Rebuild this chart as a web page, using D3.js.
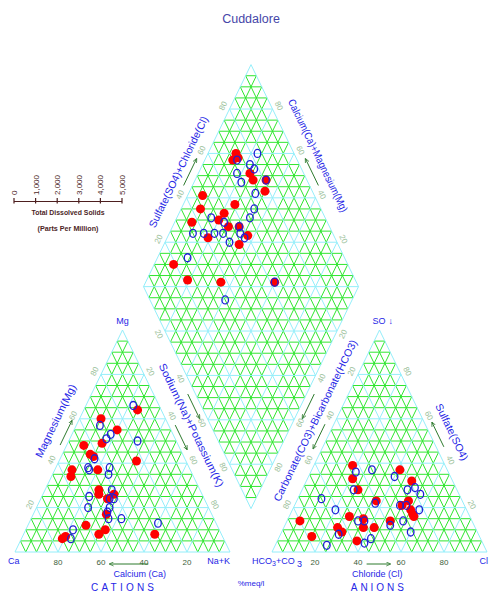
<!DOCTYPE html>
<head>
  <meta charset="utf-8">
  <script src="https://cdn.jsdelivr.net/npm/d3@7/dist/d3.min.js"></script>
  <style>
    body { margin: 0; background: #fff; font-family: Arial, "Liberation Sans", sans-serif; }
    svg { display: block; }
  </style>
</head>
<body>
<div id="chart"></div>
<script>

// cation triangle samples: [Ca, Mg, Na+K] in %meq/l
var cationRed = [[11,64,25],[30,60,10],[25,55,20],[35,49,16],[44,48,8],[43,44,13],[42,43,15],[23,41,36],
  [43,37,20],[55,37,8],[57,34,9],[47,28,25],[48,26,26],[45,24,31],[41,26,33],[49,17,34],[61,12,27],
  [53,10,37],[57,8,35],[31,8,61],[75,6,19],[73,7,20]];
var cationBlue = [[12,66,22],[32,57,11],[29,53,18],[32,51,17],[18,50,32],[42,42,16],[47,38,15],[47,37,16],
  [37,38,25],[39,35,26],[41,28,31],[53,25,22],[44,24,32],[42,24,34],[46,20,34],[56,20,24],[48,18,34],
  [49,15,36],[43,15,42],[68,10,22],[27,13,60],[71,6,23]];

// anion triangle samples: [HCO3+CO3, SO4, Cl]
var anionRed = [[43,39,18],[46,33,21],[22,37,41],[19,32,49],[46,28,26],[40,23,37],[25,23,52],[29,21,50],
  [26,19,55],[26,17,57],[26,16,58],[56,16,28],[50,15,35],[80,14,6],[38,14,48],[52,11,37],[47,11,42],
  [64,11,25],[63,9,28],[78,7,15],[58,5,37]];
var anionBlue = [[43,36,21],[35,37,28],[26,34,40],[19,29,52],[23,28,49],[18,26,56],[48,28,24],[65,24,11],
  [41,22,37],[30,21,49],[27,21,52],[22,19,59],[61,19,20],[53,14,33],[50,14,36],[39,12,49],[32,14,54],
  [65,8,27],[31,9,60],[73,3,24],[55,4,41],[51,6,43]];

// diamond samples: [Ca+Mg, SO4+Cl]
var diamondRed = [[87,73],[85,73],[87,70],[76,75],[73,75],[67,81],[65,78],[93,48],[76,61],[91,44],[79,54],
  [92,37],[80,50],[74,53],[69,58],[63,60],[81,41],[65,54],[91,19],[81,22],[65,37],[40,62]];
var diamondBlue = [[77,83],[85,72],[78,77],[75,78],[82,69],[67,81],[78,69],[69,73],[66,69],[66,65],[84,47],
  [77,52],[69,58],[67,57],[75,49],[79,45],[84,40],[89,35],[64,58],[70,50],[86,27],[40,62],[59,35]];

var edgeTicks = [20, 40, 60, 80];
var tdsTicks = [0, 1000, 2000, 3000, 4000, 5000];

var width = 489, height = 592;
var base = 552, side = 215, tall = 222, gap = 42;
var x0C = 15, x0A = x0C + side + gap, mid = x0C + side + gap / 2;
var dBottom = base - tall * (gap / 2) / (side / 2);

var blue = "#2626e6", green = "#2fe62f", cyan = "#94eefa", tickCol = "#9cc29c";

var yT = d3.scaleLinear().domain([0, 100]).range([base, base - tall]);
var xC = d3.scaleLinear().domain([0, 100]).range([x0C, x0C + side]);
var xA = d3.scaleLinear().domain([0, 100]).range([x0A, x0A + side]);
var xD = d3.scaleLinear().domain([-100, 100]).range([mid - side / 2, mid + side / 2]);
var yD = d3.scaleLinear().domain([0, 200]).range([dBottom, dBottom - 2 * tall]);
var xTds = d3.scaleLinear().domain([0, 5000]).range([14, 122]);

function posC(ca, mg, na) { return [xC(na + mg / 2), yT(mg)]; }
function posA(hc, so, cl) { return [xA(cl + so / 2), yT(so)]; }
function posD(c, s) { return [xD(s - c), yD(s + c)]; }

// point on edge a->b at fraction t, pushed d px to the outside
function along(a, b, t, d) {
  var dx = b[0] - a[0], dy = b[1] - a[1], L = Math.hypot(dx, dy);
  return [a[0] + dx * t + dy / L * d, a[1] + dy * t - dx / L * d];
}
function edgeAngle(a, b) {
  var ang = Math.atan2(b[1] - a[1], b[0] - a[0]) * 180 / Math.PI;
  if (ang > 90) ang -= 180;
  if (ang < -90) ang += 180;
  return ang;
}

var svg = d3.select("#chart").append("svg")
    .attr("width", width)
    .attr("height", height);

svg.append("defs").append("marker")
    .attr("id", "head")
    .attr("viewBox", "0 0 10 10")
    .attr("refX", 8).attr("refY", 5)
    .attr("markerWidth", 5).attr("markerHeight", 5)
    .attr("orient", "auto")
  .append("path")
    .attr("d", "M0,1 L9,5 L0,9")
    .attr("fill", "none")
    .attr("stroke", "#2d7a2d")
    .attr("stroke-width", 1.5);

function ternLines(pos) {
  var lines = [];
  d3.range(5, 100, 5).forEach(function(v) {
    var major = v % 20 === 0;
    lines.push({a: pos(100 - v, v, 0), b: pos(0, v, 100 - v), major: major});
    lines.push({a: pos(v, 100 - v, 0), b: pos(v, 0, 100 - v), major: major});
    lines.push({a: pos(100 - v, 0, v), b: pos(0, 100 - v, v), major: major});
  });
  return lines;
}
function diamondLines() {
  var lines = [];
  d3.range(5, 100, 5).forEach(function(v) {
    var major = v % 20 === 0;
    lines.push({a: posD(v, 0), b: posD(v, 100), major: major});
    lines.push({a: posD(0, v), b: posD(100, v), major: major});
  });
  d3.range(5, 200, 5).forEach(function(t) {
    var major = t % 20 === 0;
    if (t <= 100) lines.push({a: posD(t, 0), b: posD(0, t), major: major});
    else lines.push({a: posD(100, t - 100), b: posD(t - 100, 100), major: major});
  });
  return lines;
}

function drawGrid(lines, outline) {
  var g = svg.append("g");
  g.selectAll(".minor").data(lines.filter(function(d) { return !d.major; }))
    .enter().append("line")
      .attr("x1", function(d) { return d.a[0]; }).attr("y1", function(d) { return d.a[1]; })
      .attr("x2", function(d) { return d.b[0]; }).attr("y2", function(d) { return d.b[1]; })
      .attr("stroke", green).attr("stroke-width", 1);
  g.selectAll(".major").data(lines.filter(function(d) { return d.major; }))
    .enter().append("line")
      .attr("x1", function(d) { return d.a[0]; }).attr("y1", function(d) { return d.a[1]; })
      .attr("x2", function(d) { return d.b[0]; }).attr("y2", function(d) { return d.b[1]; })
      .attr("stroke", cyan).attr("stroke-width", 1);
  g.append("path")
    .attr("d", d3.line()(outline) + "Z")
    .attr("fill", "none").attr("stroke", cyan).attr("stroke-width", 1);
}

// corners
var cCa = posC(100, 0, 0), cMg = posC(0, 100, 0), cNa = posC(0, 0, 100);
var aHc = posA(100, 0, 0), aSo = posA(0, 100, 0), aCl = posA(0, 0, 100);
var dL = posD(100, 0), dT = posD(100, 100), dR = posD(0, 100), dB = posD(0, 0);

drawGrid(ternLines(posC), [cCa, cMg, cNa]);
drawGrid(ternLines(posA), [aHc, aSo, aCl]);
drawGrid(diamondLines(), [dL, dT, dR, dB]);

// tick labels along edges
function edgeLabels(a, b, vals, tOf, d) {
  var ang = edgeAngle(a, b);
  svg.append("g").selectAll("text").data(vals)
    .enter().append("text")
      .attr("transform", function(v) {
        var p = along(a, b, tOf(v), d);
        return "translate(" + p[0] + "," + p[1] + ") rotate(" + ang + ")";
      })
      .attr("text-anchor", "middle")
      .attr("dominant-baseline", "central")
      .attr("font-size", 8)
      .attr("fill", tickCol)
      .text(function(v) { return v; });
}
edgeLabels(cCa, cMg, edgeTicks, function(v) { return v / 100; }, 7);
edgeLabels(cMg, cNa, edgeTicks, function(v) { return v / 100; }, 7);
edgeLabels(aHc, aSo, edgeTicks, function(v) { return 1 - v / 100; }, 7);
edgeLabels(aSo, aCl, edgeTicks, function(v) { return 1 - v / 100; }, 7);
edgeLabels(dL, dT, edgeTicks, function(v) { return v / 100; }, 7);
edgeLabels(dT, dR, edgeTicks, function(v) { return 1 - v / 100; }, 7);
edgeLabels(dR, dB, edgeTicks, function(v) { return v / 100; }, 7);
edgeLabels(dB, dL, edgeTicks, function(v) { return 1 - v / 100; }, 7);

// base tick labels
svg.append("g").selectAll("text").data(edgeTicks)
  .enter().append("text")
    .attr("x", function(v) { return xC(100 - v); })
    .attr("y", base + 13)
    .attr("text-anchor", "middle").attr("font-size", 8).attr("fill", "#3d5e3d")
    .text(function(v) { return v; });
svg.append("g").selectAll("text").data(edgeTicks)
  .enter().append("text")
    .attr("x", function(v) { return xA(v); })
    .attr("y", base + 13)
    .attr("text-anchor", "middle").attr("font-size", 8).attr("fill", "#3d5e3d")
    .text(function(v) { return v; });

// axis titles along edges
var titles = [
  {a: dL, b: dT, t: 0.48, d: 19, text: "Sulfate(SO4)+Chloride(Cl)", len: 122},
  {a: dT, b: dR, t: 0.45, d: 21, text: "Calcium(Ca)+Magnesium(Mg)", len: 124},
  {a: dB, b: dL, t: 0.41, d: 17, text: "Sodium(Na)+Potassium(K)", len: 136},
  {a: dR, b: dB, t: 0.565, d: 19, text: "Carbonate(CO3)+Bicarbonate(HCO3)", len: 178},
  {a: cCa, b: cMg, t: 0.55, d: 21, text: "Magnesium(Mg)", len: 80},
  {a: aSo, b: aCl, t: 0.5, d: 21, text: "Sulfate(SO4)", len: 62}
];
svg.append("g").selectAll("text").data(titles)
  .enter().append("text")
    .attr("transform", function(d) {
      var p = along(d.a, d.b, d.t, d.d);
      return "translate(" + p[0] + "," + p[1] + ") rotate(" + edgeAngle(d.a, d.b) + ")";
    })
    .attr("text-anchor", "middle").attr("dominant-baseline", "central")
    .attr("font-size", 10.5).attr("fill", blue)
    .attr("textLength", function(d) { return d.len; })
    .attr("lengthAdjust", "spacingAndGlyphs")
    .text(function(d) { return d.text; });

// direction arrows beside the edges
var arrows = [
  {a: dL, b: dT, t0: 0.44, t1: 0.56, d: 8},
  {a: dR, b: dT, t0: 0.44, t1: 0.56, d: -8},
  {a: dL, b: dB, t0: 0.47, t1: 0.58, d: -7},
  {a: dR, b: dB, t0: 0.47, t1: 0.58, d: 7},
  {a: cMg, b: cNa, t0: 0.44, t1: 0.55, d: 6},
  {a: aSo, b: aHc, t0: 0.44, t1: 0.55, d: -8},
  {a: cCa, b: cMg, t0: 0.47, t1: 0.58, d: 6},
  {a: aCl, b: aSo, t0: 0.46, t1: 0.57, d: -7}
];
svg.append("g").selectAll("line").data(arrows)
  .enter().append("line")
    .each(function(d) {
      var p0 = along(d.a, d.b, d.t0, d.d), p1 = along(d.a, d.b, d.t1, d.d);
      d3.select(this).attr("x1", p0[0]).attr("y1", p0[1]).attr("x2", p1[0]).attr("y2", p1[1]);
    })
    .attr("stroke", "#2d7a2d").attr("stroke-width", 1)
    .attr("marker-end", "url(#head)");
svg.append("line")
    .attr("x1", xC(62)).attr("y1", base + 12).attr("x2", xC(44)).attr("y2", base + 12)
    .attr("stroke", "#2d7a2d").attr("marker-end", "url(#head)");
svg.append("line")
    .attr("x1", xA(44)).attr("y1", base + 12).attr("x2", xA(55)).attr("y2", base + 12)
    .attr("stroke", "#2d7a2d").attr("marker-end", "url(#head)");

// samples
function drawPoints(data, pos) {
  svg.append("g").selectAll("circle").data(data.red)
    .enter().append("circle")
      .attr("cx", function(d) { return pos.apply(null, d)[0]; })
      .attr("cy", function(d) { return pos.apply(null, d)[1]; })
      .attr("r", 4.5).attr("fill", "#ff0000");
  svg.append("g").selectAll("ellipse").data(data.blue)
    .enter().append("ellipse")
      .attr("cx", function(d) { return pos.apply(null, d)[0]; })
      .attr("cy", function(d) { return pos.apply(null, d)[1]; })
      .attr("rx", 3.3).attr("ry", 4).attr("fill", "none")
      .attr("stroke", "#1f1fd6").attr("stroke-width", 1.3);
}
drawPoints({red: cationRed, blue: cationBlue}, posC);
drawPoints({red: anionRed, blue: anionBlue}, posA);
drawPoints({red: diamondRed, blue: diamondBlue}, posD);

// corner and bottom labels
var lab = svg.append("g").attr("fill", blue).attr("font-size", 9);
lab.append("text").attr("x", cMg[0]).attr("y", cMg[1] - 6).attr("text-anchor", "middle").text("Mg");
var so = lab.append("text").attr("x", aSo[0] - 7).attr("y", aSo[1] - 6);
so.append("tspan").text("SO");
so.append("tspan").attr("dx", 3).text("↓");
lab.append("text").attr("x", cCa[0] - 7).attr("y", base + 12).text("Ca");
lab.append("text").attr("x", cNa[0]).attr("y", base + 12).attr("text-anchor", "end").text("Na+K");
var hc = lab.append("text").attr("x", aHc[0] - 20).attr("y", base + 12);
hc.append("tspan").text("HCO");
hc.append("tspan").attr("font-size", 7).attr("dy", 2).text("3");
hc.append("tspan").attr("dy", -2).text("+CO");
lab.append("text").attr("x", aHc[0] + 25).attr("y", base + 15).text("3");
lab.append("text").attr("x", width - 1).attr("y", base + 12).attr("text-anchor", "end").text("Cl");
lab.append("text").attr("x", xC(58)).attr("y", base + 25).attr("text-anchor", "middle").text("Calcium (Ca)");
lab.append("text").attr("x", xA(49)).attr("y", base + 25).attr("text-anchor", "middle").text("Chloride (Cl)");
lab.append("text").attr("x", mid).attr("y", base + 34).attr("text-anchor", "middle").attr("font-size", 8).text("%meq/l");
lab.append("text").attr("x", xC(50)).attr("y", base + 39).attr("text-anchor", "middle")
  .attr("font-size", 10).attr("textLength", 63).attr("lengthAdjust", "spacing").text("CATIONS");
lab.append("text").attr("x", xA(49)).attr("y", base + 39).attr("text-anchor", "middle")
  .attr("font-size", 10).attr("textLength", 53).attr("lengthAdjust", "spacing").text("ANIONS");

// title
svg.append("text")
    .attr("x", mid).attr("y", 23)
    .attr("text-anchor", "middle")
    .attr("font-size", 12.5).attr("fill", "#4646a8")
    .text("Cuddalore");

// TDS scale
var tds = svg.append("g").attr("fill", "#4d1f1f").attr("stroke", "none");
tds.append("line").attr("x1", xTds(0)).attr("x2", xTds(5000)).attr("y1", 201.5).attr("y2", 201.5)
  .attr("stroke", "#4d1f1f").attr("stroke-width", 1.2);
tds.selectAll(".tk").data(tdsTicks).enter().append("line")
  .attr("x1", function(d) { return xTds(d); }).attr("x2", function(d) { return xTds(d); })
  .attr("y1", 198).attr("y2", 203.5)
  .attr("stroke", "#4d1f1f").attr("stroke-width", 1.2);
tds.selectAll(".lb").data(tdsTicks).enter().append("text")
  .attr("transform", function(d) { return "translate(" + (xTds(d) + 3) + ",195) rotate(-90)"; })
  .attr("font-size", 8)
  .text(function(d) { return d3.format(",")(d); });
tds.append("text").attr("x", xTds(2500)).attr("y", 215).attr("text-anchor", "middle")
  .attr("font-size", 8).attr("font-weight", "bold").attr("textLength", 73).attr("lengthAdjust", "spacingAndGlyphs")
  .text("Total Dissolved Solids");
tds.append("text").attr("x", xTds(2500)).attr("y", 231).attr("text-anchor", "middle")
  .attr("font-size", 8).attr("font-weight", "bold").attr("textLength", 61).attr("lengthAdjust", "spacingAndGlyphs")
  .text("(Parts Per Million)");

</script>
</body>
